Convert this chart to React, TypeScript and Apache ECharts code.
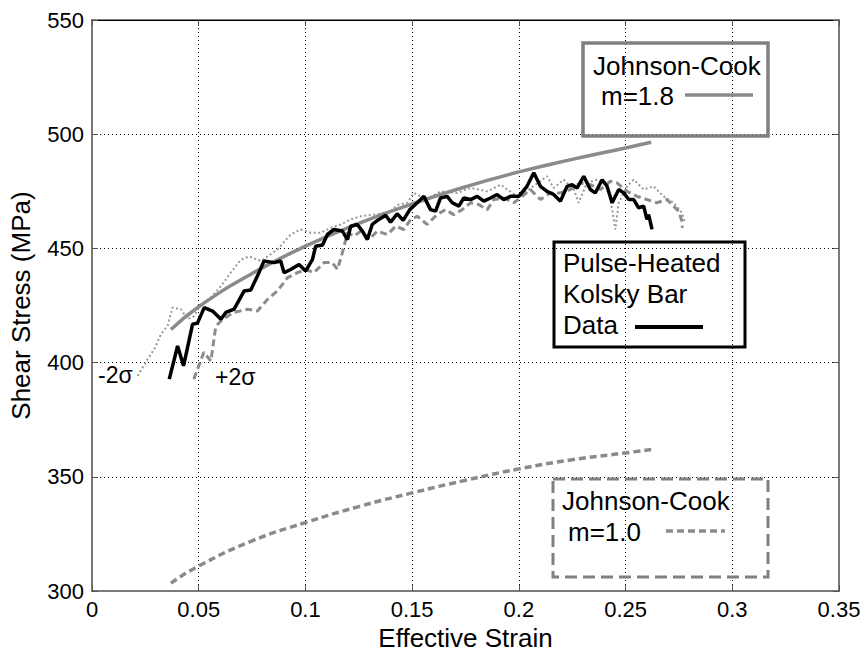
import React, { useEffect, useRef } from "react";
import * as echarts from "echarts";

// Effective strain / shear stress (MPa) pairs
const kolskyData: [number, number][] = [
  [0.0362, 392.8], [0.0401, 407.3], [0.0429, 398.6], [0.0471, 416.8], [0.0494, 417.3],
  [0.0526, 424.1], [0.0565, 422.6], [0.0604, 419.0], [0.0627, 422.0], [0.0666, 423.4],
  [0.0713, 431.4], [0.0744, 431.8], [0.0775, 437.9], [0.0806, 444.5], [0.0853, 443.8],
  [0.0884, 444.5], [0.0900, 439.4], [0.0931, 440.8], [0.0970, 443.0], [0.1001, 440.1],
  [0.1033, 445.2], [0.1048, 451.0], [0.1080, 451.5], [0.1103, 456.1], [0.1134, 458.3],
  [0.1173, 457.6], [0.1197, 453.9], [0.1212, 459.7], [0.1243, 460.5], [0.1267, 457.6],
  [0.1290, 453.9], [0.1313, 460.5], [0.1344, 462.7], [0.1376, 464.5], [0.1399, 461.5],
  [0.1430, 465.2], [0.1458, 462.3], [0.1489, 467.0], [0.1524, 470.0], [0.1555, 472.8],
  [0.1586, 467.0], [0.1610, 466.3], [0.1633, 472.1], [0.1664, 472.8], [0.1688, 470.0],
  [0.1719, 468.5], [0.1742, 472.1], [0.1774, 471.4], [0.1805, 472.8], [0.1836, 470.7],
  [0.1867, 472.1], [0.1898, 473.6], [0.1929, 471.4], [0.1961, 472.8], [0.2000, 472.8],
  [0.2038, 477.2], [0.2070, 483.1], [0.2101, 477.2], [0.2132, 475.0], [0.2163, 473.6],
  [0.2195, 470.7], [0.2226, 477.2], [0.2249, 477.9], [0.2273, 476.5], [0.2304, 481.6],
  [0.2335, 475.8], [0.2358, 474.3], [0.2390, 480.1], [0.2413, 477.2], [0.2437, 470.0],
  [0.2468, 475.8], [0.2491, 474.3], [0.2515, 471.4], [0.2538, 471.4], [0.2561, 467.8],
  [0.2585, 468.5], [0.2600, 462.7], [0.2608, 464.8], [0.2624, 458.3],
];

const plusTwoSigma: [number, number][] = [
  [0.0477, 392.8], [0.0524, 404.6], [0.0557, 400.7], [0.0580, 415.9], [0.0612, 419.0],
  [0.0664, 422.0], [0.0729, 423.4], [0.0775, 422.6], [0.0822, 427.7], [0.0869, 431.4],
  [0.0916, 437.2], [0.0963, 439.4], [0.1001, 440.8], [0.1040, 439.4], [0.1087, 443.8],
  [0.1126, 443.8], [0.1150, 440.8], [0.1173, 448.1], [0.1197, 456.9], [0.1228, 455.4],
  [0.1259, 457.6], [0.1298, 453.9], [0.1337, 457.6], [0.1384, 456.1], [0.1423, 459.7],
  [0.1462, 458.3], [0.1493, 462.7], [0.1524, 464.1], [0.1570, 460.5], [0.1617, 464.8],
  [0.1656, 467.0], [0.1695, 464.8], [0.1735, 467.0], [0.1774, 470.0], [0.1812, 469.2],
  [0.1852, 467.0], [0.1883, 471.4], [0.1929, 472.1], [0.1976, 470.0], [0.2007, 472.1],
  [0.2054, 475.8], [0.2101, 471.4], [0.2148, 474.3], [0.2195, 474.3], [0.2241, 475.8],
  [0.2288, 478.7], [0.2335, 477.9], [0.2382, 475.8], [0.2429, 479.4], [0.2460, 478.7],
  [0.2507, 475.0], [0.2554, 472.8], [0.2600, 471.4], [0.2647, 470.0], [0.2694, 471.4],
  [0.2725, 468.5], [0.2749, 466.3], [0.2764, 461.9], [0.2766, 459.0],
];

const minusTwoSigma: [number, number][] = [
  [0.0214, 394.2], [0.0260, 401.5], [0.0292, 405.9], [0.0323, 412.4], [0.0354, 416.1],
  [0.0377, 424.1], [0.0416, 423.4], [0.0448, 419.0], [0.0479, 420.4], [0.0510, 425.5],
  [0.0557, 428.5], [0.0604, 433.5], [0.0650, 439.4], [0.0697, 445.0], [0.0736, 446.5],
  [0.0791, 444.5], [0.0830, 447.0], [0.0869, 449.6], [0.0931, 456.1], [0.0978, 458.3],
  [0.1025, 456.9], [0.1072, 456.9], [0.1118, 459.0], [0.1165, 460.5], [0.1212, 462.7],
  [0.1259, 464.1], [0.1337, 465.0], [0.1399, 466.3], [0.1430, 469.0], [0.1477, 470.0],
  [0.1508, 474.3], [0.1570, 471.4], [0.1633, 475.0], [0.1711, 474.3], [0.1774, 476.5],
  [0.1852, 475.0], [0.1914, 477.9], [0.1992, 472.8], [0.2047, 475.8], [0.2132, 481.6],
  [0.2163, 476.5], [0.2210, 480.1], [0.2257, 475.8], [0.2280, 470.0], [0.2319, 478.7],
  [0.2366, 480.1], [0.2413, 478.7], [0.2437, 467.0], [0.2452, 458.3], [0.2468, 470.0],
  [0.2507, 477.2], [0.2538, 480.1], [0.2585, 475.8], [0.2631, 477.2], [0.2678, 472.8],
  [0.2725, 470.0], [0.2764, 465.6], [0.2779, 461.2],
];

const jcM18: [number, number][] = [
  [0.037, 414.5], [0.05, 424.5], [0.075, 439], [0.1, 451], [0.125, 461], [0.15, 469.5],
  [0.175, 477], [0.2, 483.5], [0.225, 489], [0.25, 494], [0.262, 496.5],
];

const jcM10: [number, number][] = [
  [0.037, 303.5], [0.05, 311], [0.075, 322], [0.1, 330], [0.125, 337], [0.15, 343],
  [0.175, 348.5], [0.2, 353.5], [0.225, 357.5], [0.25, 360.5], [0.262, 362],
];

const xTicks = { min: 0, max: 0.35, interval: 0.05 };
const yTicks = { min: 300, max: 550, interval: 50 };

const FONT = "'Liberation Sans', Arial, sans-serif";

export default function App() {
  const ref = useRef<HTMLDivElement>(null);

  useEffect(() => {
    if (!ref.current) return;
    const chart = echarts.init(ref.current, null, { renderer: "svg" });

    const gridLine = { show: true, lineStyle: { color: "#000", width: 1, type: [1, 3] } };

    const textEl = (text: string, x: number, y: number, size: number) => ({
      type: "text",
      x,
      y,
      z: 100,
      style: {
        text,
        x: 0,
        y: 0,
        fill: "#000",
        font: `${size}px ${FONT}`,
        fontSize: size,
        fontFamily: FONT,
        textAlign: "left",
        textVerticalAlign: "middle",
        align: "left",
        verticalAlign: "middle",
      },
    });

    chart.setOption({
      animation: false,
      backgroundColor: "#fff",
      grid: {
        left: 91,
        right: 28,
        top: 20,
        bottom: 63,
        show: true,
        borderColor: "#000",
        borderWidth: 1,
        backgroundColor: "transparent",
      },
      xAxis: [
        {
          type: "value",
          ...xTicks,
          name: "Effective Strain",
          nameLocation: "middle",
          nameGap: 32,
          nameTextStyle: { fontSize: 26, fontFamily: FONT, color: "#000" },
          axisLine: { show: true, onZero: false, lineStyle: { color: "#7a7a7a", width: 2 } },
          axisTick: { show: true, inside: true, length: 6, lineStyle: { color: "#555" } },
          axisLabel: {
            fontSize: 22,
            fontFamily: FONT,
            color: "#000",
            margin: 7,
            formatter: (v: number) => String(+v.toFixed(2)),
          },
          splitLine: gridLine,
        },
        {
          type: "value",
          ...xTicks,
          position: "top",
          axisLine: { show: true, onZero: false, lineStyle: { color: "#000", width: 1 } },
          axisTick: { show: true, inside: true, length: 6, lineStyle: { color: "#555" } },
          axisLabel: { show: false },
          splitLine: { show: false },
        },
      ],
      yAxis: [
        {
          type: "value",
          ...yTicks,
          name: "Shear Stress (MPa)",
          nameLocation: "middle",
          nameGap: 58,
          nameTextStyle: { fontSize: 26, fontFamily: FONT, color: "#000" },
          axisLine: { show: true, onZero: false, lineStyle: { color: "#7a7a7a", width: 2 } },
          axisTick: { show: true, inside: true, length: 6, lineStyle: { color: "#555" } },
          axisLabel: { fontSize: 22, fontFamily: FONT, color: "#000", margin: 8 },
          splitLine: gridLine,
        },
        {
          type: "value",
          ...yTicks,
          position: "right",
          axisLine: { show: true, onZero: false, lineStyle: { color: "#7a7a7a", width: 2 } },
          axisTick: { show: true, inside: true, length: 6, lineStyle: { color: "#555" } },
          axisLabel: { show: false },
          splitLine: { show: false },
        },
      ],
      series: [
        {
          name: "-2σ",
          type: "line",
          data: minusTwoSigma,
          symbol: "none",
          lineStyle: { color: "#999", width: 2, type: [2, 2.5] },
          z: 2,
        },
        {
          name: "+2σ",
          type: "line",
          data: plusTwoSigma,
          symbol: "none",
          lineStyle: { color: "#8c8c8c", width: 3, type: [7, 4] },
          z: 3,
        },
        {
          name: "Johnson-Cook m=1.8",
          type: "line",
          data: jcM18,
          symbol: "none",
          smooth: true,
          lineStyle: { color: "#8a8a8a", width: 3.5 },
          z: 4,
        },
        {
          name: "Johnson-Cook m=1.0",
          type: "line",
          data: jcM10,
          symbol: "none",
          smooth: true,
          lineStyle: { color: "#8a8a8a", width: 3.5, type: [7, 4] },
          z: 4,
        },
        {
          name: "Pulse-Heated Kolsky Bar Data",
          type: "line",
          data: kolskyData,
          symbol: "none",
          lineStyle: { color: "#000", width: 3.5 },
          z: 5,
        },
      ],
      graphic: [
        // Johnson-Cook m=1.8 box
        {
          type: "rect",
          z: 100,
          shape: { x: 583, y: 43, width: 185, height: 93 },
          style: { fill: "rgba(0,0,0,0)", stroke: "#808080", lineWidth: 3.5 },
        },
        textEl("Johnson-Cook", 593, 66, 26),
        textEl("m=1.8", 601, 96, 26),
        {
          type: "line",
          z: 100,
          shape: { x1: 685, y1: 95, x2: 753, y2: 95 },
          style: { stroke: "#8a8a8a", lineWidth: 3.5 },
        },
        // Pulse-Heated box
        {
          type: "rect",
          z: 100,
          shape: { x: 554, y: 242, width: 191, height: 105 },
          style: { fill: "rgba(0,0,0,0)", stroke: "#000", lineWidth: 3 },
        },
        textEl("Pulse-Heated", 563, 263, 26),
        textEl("Kolsky Bar", 563, 294, 26),
        textEl("Data", 563, 325, 26),
        {
          type: "line",
          z: 100,
          shape: { x1: 635, y1: 327, x2: 703, y2: 327 },
          style: { stroke: "#000", lineWidth: 4 },
        },
        // Johnson-Cook m=1.0 box (dashed)
        {
          type: "rect",
          z: 100,
          shape: { x: 553, y: 479, width: 215, height: 98 },
          style: { fill: "rgba(0,0,0,0)", stroke: "#808080", lineWidth: 3, lineDash: [12, 6] },
        },
        textEl("Johnson-Cook", 562, 501, 26),
        textEl("m=1.0", 568, 532, 26),
        {
          type: "line",
          z: 100,
          shape: { x1: 666, y1: 531, x2: 725, y2: 531 },
          style: { stroke: "#8a8a8a", lineWidth: 3.5, lineDash: [7, 4] },
        },
        // sigma labels
        textEl("-2σ", 98, 375, 23),
        textEl("+2σ", 215, 377, 23),
      ],
    });

    return () => chart.dispose();
  }, []);

  return (
    <div
      ref={ref}
      style={{ position: "fixed", left: 0, top: 0, width: 867, height: 656, background: "#fff" }}
    />
  );
}
